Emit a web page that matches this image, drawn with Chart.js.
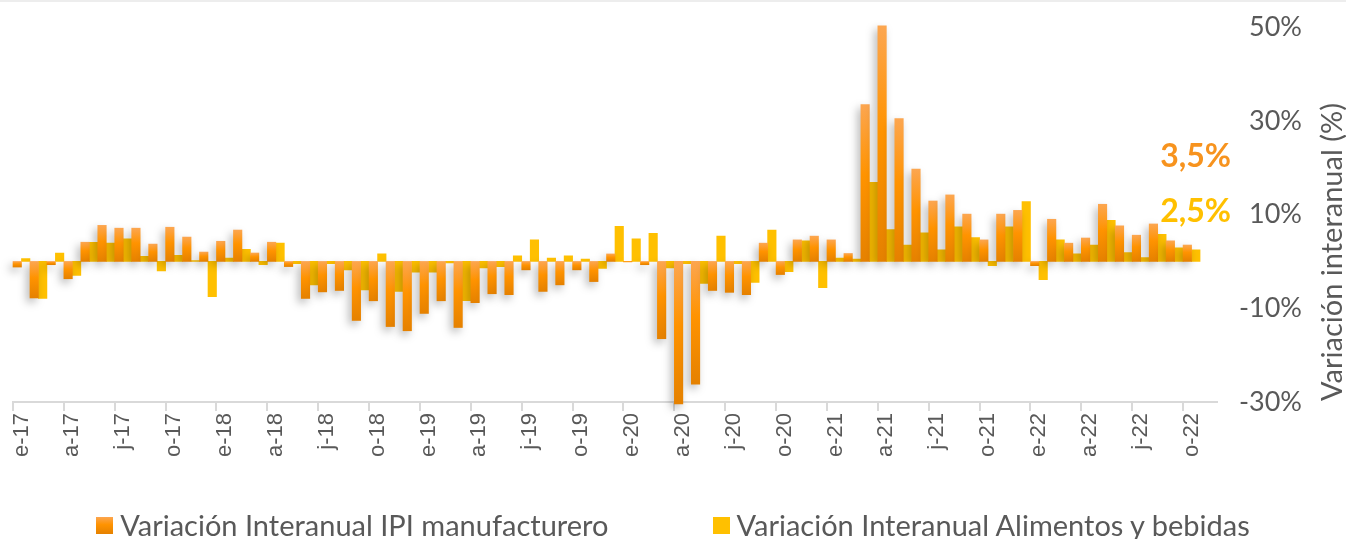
<!DOCTYPE html>
<html>
<head>
<meta charset="utf-8">
<script src="https://cdn.jsdelivr.net/npm/chart.js@4.4.1/dist/chart.umd.min.js"></script>
<style>
  html, body { margin: 0; padding: 0; background: #fff; }
  #wrap { position: relative; width: 1346px; height: 539px; overflow: hidden; }
  #wrap:before { content: ''; position: absolute; left: 0; right: 0; top: 0; height: 2px; background: #EDEDED; }
  #legend { position: absolute; left: 0; right: 0; top: 510px; display: flex; justify-content: center;
    gap: 104px; font-family: Lato, sans-serif; font-size: 29px; color: #595959; line-height: 30px; }
  #legend .item { display: flex; align-items: center; white-space: nowrap; }
  #legend .box { width: 17px; height: 17px; margin-right: 7px; }
</style>
</head>
<body>
<div id="wrap">
  <canvas id="ipi-chart" width="1346" height="539"></canvas>
  <div id="legend"></div>
</div>
<script>
// meses ene-17 .. nov-22 (el ultimo sin dato)
const monthLetters = ['e', 'f', 'm', 'a', 'm', 'j', 'j', 'a', 's', 'o', 'n', 'd'];
const years = ['17', '18', '19', '20', '21', '22'];
const labels = [];
years.forEach(y => monthLetters.forEach((m, i) => {
  if (y === '22' && i > 10) return;
  labels.push(m + '-' + y);
}));

const ipiManufacturero = [
  -1.2, -7.8, -0.7, -3.7, 4.1, 7.7, 7.1, 7.1, 3.7, 7.3, 5.2, 2.0,
  4.3, 6.7, 1.8, 4.1, -1.1, -7.9, -6.5, -6.2, -12.6, -8.4, -13.9, -14.8,
  -11.1, -8.4, -14.1, -8.8, -6.9, -7.1, -1.8, -6.4, -5.0, -1.8, -4.3, 1.6,
  -0.1, -0.7, -16.5, -30.4, -26.2, -6.2, -6.6, -7.1, 3.9, -2.8, 4.6, 5.4,
  4.6, 1.7, 33.5, 50.3, 30.5, 19.7, 12.9, 14.2, 10.1, 4.6, 10.1, 10.9,
  -0.9, 9.0, 3.9, 5.0, 12.2, 7.6, 5.6, 8.0, 4.4, 3.5, null
];

const alimentosBebidas = [
  0.6, -7.9, 1.8, -3.0, 4.1, 3.9, 4.8, 1.1, -2.0, 1.3, 0.2, -7.5,
  0.7, 2.6, -0.7, 3.9, -0.5, -5.0, -0.5, -1.8, -6.1, 1.6, -6.4, -2.3,
  -2.3, -0.3, -8.4, -1.4, -1.1, 1.2, 4.6, 0.7, 1.2, 0.5, -1.5, 7.5,
  4.8, 6.0, -1.4, -0.5, -4.7, 5.4, -0.5, -4.5, 6.7, -2.2, 4.4, -5.6,
  0.7, 0.5, 16.9, 6.8, 3.5, 6.1, 2.5, 7.4, 5.1, -0.9, 7.4, 12.8,
  -3.9, 4.6, 1.6, 3.5, 8.8, 1.9, 0.8, 5.8, 2.9, 2.5, null
];

const yTicks = [-30, -10, 10, 30, 50];

const ORANGE = '#FF9200';
const YELLOW = '#FFC000';
const GREY = '#595959';

// degradado vertical por barra, como en Excel
function ipiFill(c) {
  const chart = c.chart;
  const y = chart.scales && chart.scales.y;
  if (c.type !== 'data' || !y || c.raw == null) return ORANGE;
  const top = y.getPixelForValue(Math.max(c.raw, 0));
  const bot = y.getPixelForValue(Math.min(c.raw, 0));
  if (!isFinite(top) || !isFinite(bot) || bot - top < 1) return ORANGE;
  const g = chart.ctx.createLinearGradient(0, top, 0, bot);
  g.addColorStop(0, '#FCA650');
  g.addColorStop(0.45, '#FF9300');
  g.addColorStop(1, '#E58100');
  return g;
}

const barShadow = {
  id: 'barShadow',
  beforeDatasetDraw(chart, args) {
    if (args.index !== 0) return;
    const ctx = chart.ctx;
    ctx.save();
    ctx.shadowColor = 'rgba(0,0,0,0.28)';
    ctx.shadowBlur = 8;
    ctx.shadowOffsetX = -3;
    ctx.shadowOffsetY = 4;
  },
  afterDatasetDraw(chart, args) {
    if (args.index !== 0) return;
    chart.ctx.restore();
  }
};

const sideTexts = {
  id: 'sideTexts',
  afterDraw(chart) {
    const ctx = chart.ctx;
    const area = chart.chartArea;
    const last = ipiManufacturero.length - 2;
    ctx.save();
    // titulo del eje
    ctx.fillStyle = GREY;
    ctx.font = '29px Lato';
    ctx.textAlign = 'center';
    ctx.textBaseline = 'middle';
    ctx.translate(chart.width - 13, 252);
    ctx.rotate(-Math.PI / 2);
    ctx.fillText('Variación interanual (%)', 0, 0);
    ctx.restore();

    ctx.save();
    ctx.font = 'bold 32px Lato';
    ctx.textAlign = 'right';
    ctx.textBaseline = 'middle';
    ctx.fillStyle = '#F7931E';
    ctx.fillText(ipiManufacturero[last].toFixed(1).replace('.', ',') + '%', area.right + 14, 157);
    ctx.fillStyle = YELLOW;
    ctx.fillText(alimentosBebidas[last].toFixed(1).replace('.', ',') + '%', area.right + 14, 212);
    ctx.restore();
  }
};

const ctx = document.getElementById('ipi-chart').getContext('2d');
const chart = new Chart(ctx, {
  type: 'bar',
  data: {
    labels: labels,
    datasets: [{
      label: 'Variación Interanual IPI manufacturero',
      data: ipiManufacturero,
      backgroundColor: ipiFill,
      categoryPercentage: 1,
      barPercentage: 1,
      clip: false
    }, {
      label: 'Variación Interanual Alimentos y bebidas',
      data: alimentosBebidas,
      backgroundColor: YELLOW,
      categoryPercentage: 1,
      barPercentage: 1
    }]
  },
  options: {
    responsive: false,
    animation: false,
    layout: { padding: { left: 13, top: 0, right: 44, bottom: 80 } },
    plugins: {
      legend: { display: false },
      tooltip: { enabled: false }
    },
    scales: {
      x: {
        grid: {
          display: true,
          drawOnChartArea: false,
          offset: true,
          tickLength: 9,
          lineWidth: 2,
          color: c => (c.index % 3 === 0 && c.index < labels.length) ? '#D9D9D9' : 'rgba(0,0,0,0)'
        },
        border: { display: true, color: '#D9D9D9', width: 2 },
        ticks: {
          autoSkip: false,
          maxRotation: 90,
          minRotation: 90,
          padding: 2,
          color: GREY,
          font: { family: 'Liberation Sans', size: 22 },
          callback: (v, i) => (i % 3 === 0 && i < 70) ? labels[i] : ''
        }
      },
      y: {
        position: 'right',
        min: -30,
        max: 50,
        afterBuildTicks: s => { s.ticks = yTicks.map(v => ({ value: v })); },
        grid: { display: false, drawTicks: false },
        border: { display: false },
        ticks: {
          crossAlign: 'far',
          padding: 11,
          color: GREY,
          font: { family: 'Lato', size: 27 },
          callback: v => v + '%'
        }
      }
    }
  },
  plugins: [barShadow, sideTexts]
});

// leyenda en HTML
const legend = document.getElementById('legend');
chart.data.datasets.forEach((ds, i) => {
  const item = document.createElement('div');
  item.className = 'item';
  const box = document.createElement('span');
  box.className = 'box';
  box.style.background = i === 0 ? 'linear-gradient(#FCA650, #FF9300 45%, #E58100)' : YELLOW;
  item.appendChild(box);
  item.appendChild(document.createTextNode(ds.label));
  legend.appendChild(item);
});
</script>
</body>
</html>
